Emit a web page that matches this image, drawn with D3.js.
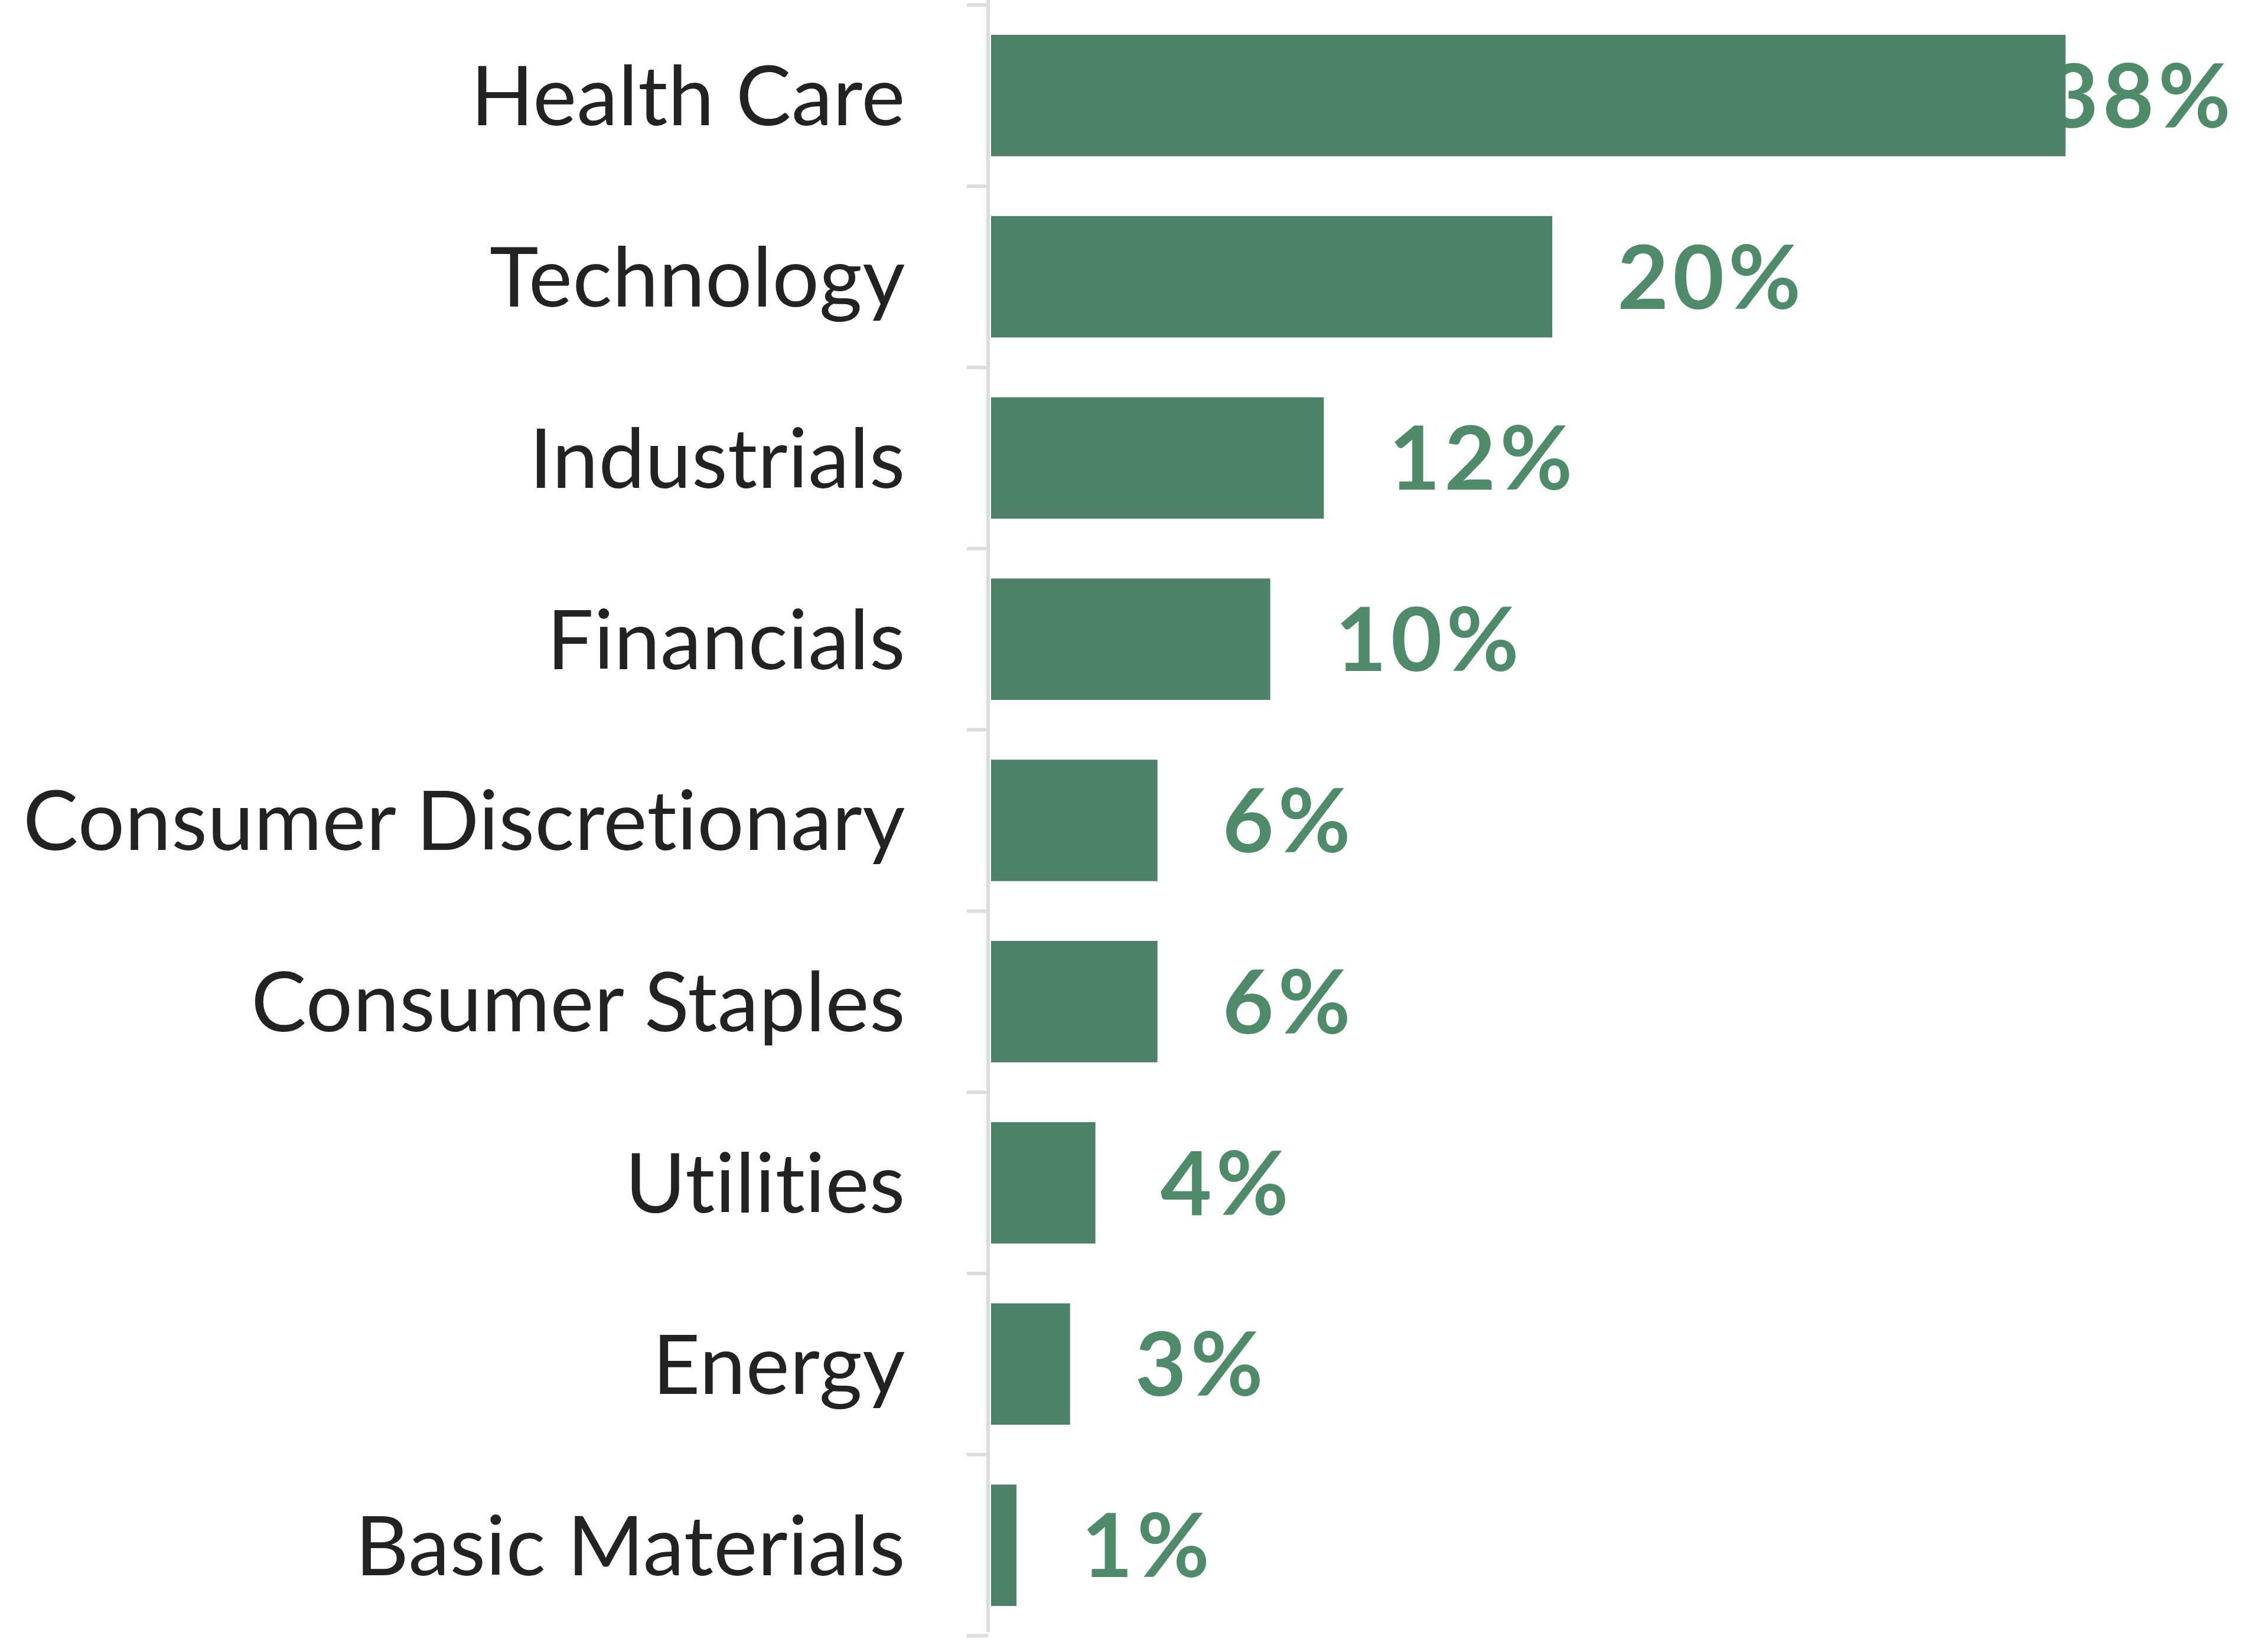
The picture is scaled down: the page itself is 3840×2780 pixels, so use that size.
<!DOCTYPE html>
<html>
<head>
<meta charset="utf-8">
<script src="https://cdn.jsdelivr.net/npm/d3@7"></script>
<style>
  html, body { margin: 0; padding: 0; background: #ffffff; }
  svg { display: block; }
</style>
</head>
<body>
<svg id="chart" width="3840" height="2780"></svg>
<script>
const categories = ["Health Care", "Technology", "Industrials", "Financials", "Consumer Discretionary", "Consumer Staples", "Utilities", "Energy", "Basic Materials"];
const values = [38.1, 19.9, 11.8, 9.9, 5.9, 5.9, 3.7, 2.8, 0.9];
const valueLabels = ["38%", "20%", "12%", "10%", "6%", "6%", "4%", "3%", "1%"];

const W = 3840, H = 2780;
const axisX = 1673;
const rightLimit = 3784;
const barColor = "#4d8268";
const labelColor = "#4f8a6b";

const svg = d3.select("#chart");

const y = d3.scaleBand().domain(categories).range([13, 2765]).paddingInner(0.33).paddingOuter(0.15);
const x = d3.scaleLinear().domain([0, 40]).range([axisX + 5, 3588]);

// axis line and ticks at band boundaries
const step = y.step();
const y0 = y(categories[0]) - step * y.paddingInner() / 2;
const boundaries = d3.range(categories.length + 1).map(i => y0 + i * step);
svg.append("line")
  .attr("x1", axisX).attr("x2", axisX)
  .attr("y1", 0).attr("y2", 2763)
  .attr("stroke", "#dcdcdc").attr("stroke-width", 6);
svg.selectAll(".tk").data(boundaries).enter().append("line")
  .attr("class", "tk")
  .attr("x1", axisX - 36).attr("x2", axisX)
  .attr("y1", d => d).attr("y2", d => d)
  .attr("stroke", "#dcdcdc").attr("stroke-width", 6);

// category labels
svg.selectAll(".cat").data(categories).enter().append("text")
  .attr("class", "cat")
  .attr("x", 1533)
  .attr("y", d => y(d) + y.bandwidth() / 2)
  .attr("dy", "0.36em")
  .attr("text-anchor", "end")
  .attr("font-family", "Lato, 'Open Sans', sans-serif")
  .attr("font-size", 140)
  .attr("letter-spacing", 0.5)
  .attr("fill", "#222222")
  .text(d => d);

// value labels (drawn under bars)
const vl = svg.selectAll(".val").data(categories).enter().append("text")
  .attr("class", "val")
  .attr("y", d => y(d) + y.bandwidth() / 2)
  .attr("dy", "0.36em")
  .attr("font-family", "Lato, 'Open Sans', sans-serif")
  .attr("font-weight", "bold")
  .attr("font-size", 150)
  .attr("letter-spacing", 7)
  .attr("fill", labelColor)
  .text((d, i) => valueLabels[i]);
vl.each(function(d, i) {
  const w = this.getComputedTextLength();
  const px = Math.min(x(values[i]) + 110, rightLimit - w);
  d3.select(this).attr("x", px);
});

// bars
svg.selectAll(".bar").data(categories).enter().append("rect")
  .attr("class", "bar")
  .attr("x", x(0))
  .attr("y", d => y(d))
  .attr("width", (d, i) => x(values[i]) - x(0))
  .attr("height", y.bandwidth())
  .attr("fill", barColor);
</script>
</body>
</html>
